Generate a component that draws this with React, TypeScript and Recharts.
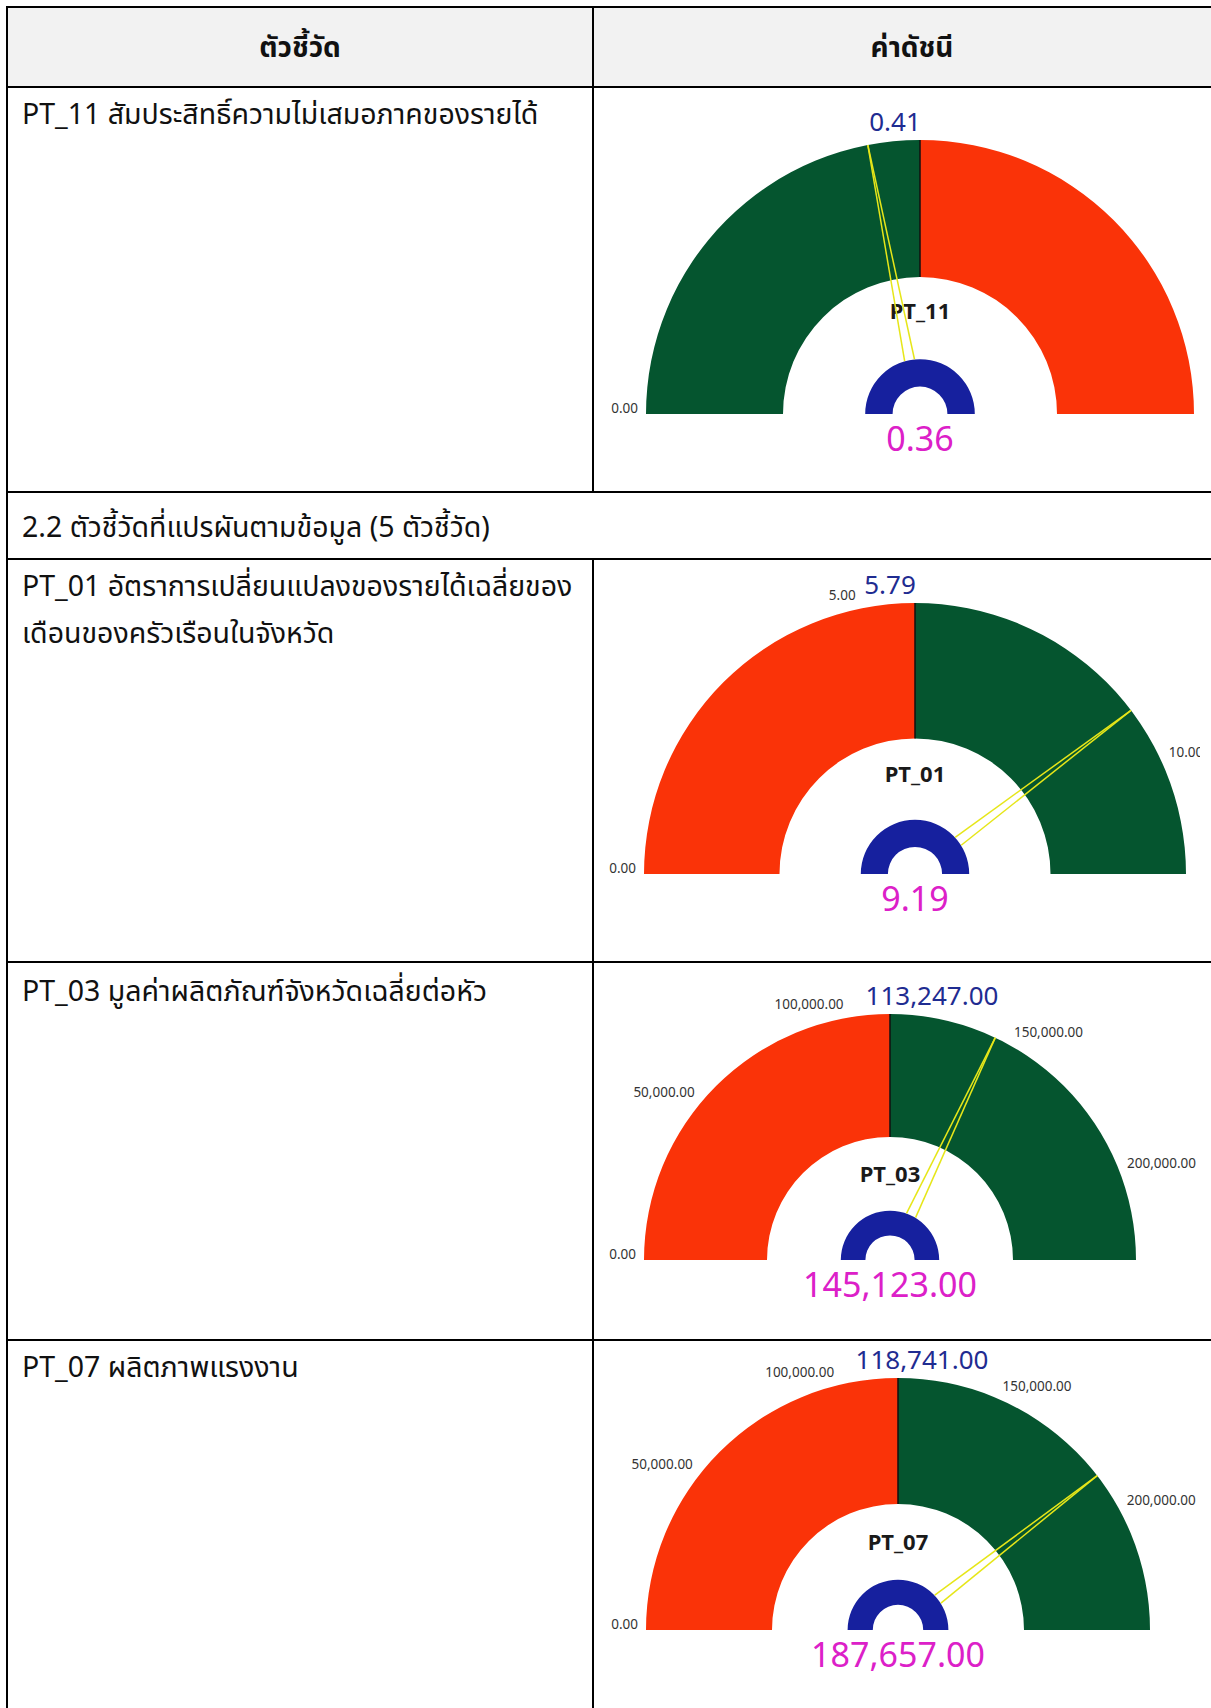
import React from 'react';
import { PieChart, Pie, Cell } from 'recharts';

// ---------- data ----------
const headerLabels = ['ตัวชี้วัด', 'ค่าดัชนี'];
const sectionTitle = '2.2 ตัวชี้วัดที่แปรผันตามข้อมูล (5 ตัวชี้วัด)';
const indicatorCodes = ['PT_11', 'PT_01', 'PT_03', 'PT_07'];
const indicatorLines = [
  ['PT_11 สัมประสิทธิ์ความไม่เสมอภาคของรายได้'],
  ['PT_01 อัตราการเปลี่ยนแปลงของรายได้เฉลี่ยของ', 'เดือนของครัวเรือนในจังหวัด'],
  ['PT_03 มูลค่าผลิตภัณฑ์จังหวัดเฉลี่ยต่อหัว'],
  ['PT_07 ผลิตภาพแรงงาน'],
];
const targetValues = [0.41, 5.79, 113247, 118741];
const actualValues = [0.36, 9.19, 145123, 187657];
const lowerIsBetter = [true, false, false, false];
const tickValues = [
  [0],
  [0, 5, 10],
  [0, 50000, 100000, 150000, 200000],
  [0, 50000, 100000, 150000, 200000],
];

// ---------- layout / style ----------
const GREEN = '#05552F';
const RED = '#FA3308';
const BLUE = '#16209E';
const BLUE_TEXT = '#1F2C91';
const PINK = '#DC20C8';
const NEEDLE = '#E6E619';
const NUM_FONT = '"Noto Sans", "Open Sans", sans-serif';
const THAI_FONT = '"Noto Sans Thai", "Leelawadee UI", Tahoma, "Noto Sans", sans-serif';

const CHART_LEFT = 594;
const CHART_W = 606;
const gaugeLayout = [
  { top: 88, height: 403, cx: 326, cy: 326, r: 274, labelDx: -25, nameDy: -104 },
  { top: 560, height: 401, cx: 321, cy: 314, r: 271, labelDx: -25, nameDy: -101 },
  { top: 963, height: 376, cx: 296, cy: 297, r: 246, labelDx: 42, nameDy: -87 },
  { top: 1341, height: 367, cx: 304, cy: 289, r: 252, labelDx: 24, nameDy: -89 },
];
const textRowsY = [[116], [588, 635], [993], [1369]];

const RAD = Math.PI / 180;
const polar = (cx: number, cy: number, r: number, a: number) => ({
  x: cx + r * Math.cos(-a * RAD),
  y: cy + r * Math.sin(-a * RAD),
});
const fmt = (v: number) =>
  v.toLocaleString('en-US', { minimumFractionDigits: 2, maximumFractionDigits: 2 });

function Gauge({ i }: { i: number }) {
  const L = gaugeLayout[i];
  const target = targetValues[i];
  const actual = actualValues[i];
  const max = target * 2;
  const bands = [
    { name: 'low', value: target },
    { name: 'high', value: target },
  ];
  const bandColors = lowerIsBetter[i] ? [GREEN, RED] : [RED, GREEN];
  const ticks = tickValues[i];
  const tickData = ticks.map((t, k) => ({
    tick: t,
    value: (k + 1 < ticks.length ? ticks[k + 1] : max) - t,
  }));
  const needleData = [
    { name: 'actual', value: actual },
    { name: 'rest', value: Math.max(max - actual, 0) },
  ];
  const R = L.r;

  const boundaryLabel = (p: any) => {
    if (p.index !== 0) return null;
    const a = polar(p.cx, p.cy, p.innerRadius, p.endAngle);
    const b = polar(p.cx, p.cy, p.outerRadius, p.endAngle);
    return <line key="bd" x1={a.x} y1={a.y} x2={b.x} y2={b.y} stroke="#111" strokeWidth={1.5} />;
  };

  const tickLabel = (p: any) => {
    const pt = polar(p.cx, p.cy, p.outerRadius + 8, p.startAngle);
    const c = Math.cos(p.startAngle * RAD);
    const anchor = c < -0.02 ? 'end' : c > 0.02 ? 'start' : 'middle';
    return (
      <text
        key={'t' + p.index}
        x={pt.x}
        y={pt.y - 6}
        textAnchor={anchor}
        dominantBaseline="central"
        fontSize={13.5}
        fontFamily={NUM_FONT}
        fill="#333"
      >
        {fmt(p.payload.tick)}
      </text>
    );
  };

  const needleLabel = (p: any) => {
    if (p.index !== 0) return null;
    const ang = p.endAngle;
    const tip = polar(p.cx, p.cy, p.outerRadius, ang);
    const base = polar(p.cx, p.cy, p.innerRadius, ang);
    const nx = Math.cos((-ang + 90) * RAD) * 5;
    const ny = Math.sin((-ang + 90) * RAD) * 5;
    return (
      <g key="needle">
        <line x1={base.x + nx} y1={base.y + ny} x2={tip.x} y2={tip.y} stroke={NEEDLE} strokeWidth={1.5} />
        <line x1={base.x - nx} y1={base.y - ny} x2={tip.x} y2={tip.y} stroke={NEEDLE} strokeWidth={1.5} />
      </g>
    );
  };

  const centerLabel = (p: any) => {
    if (p.index !== 0) return null;
    return (
      <g key="center">
        <text
          x={p.cx + L.labelDx}
          y={p.cy - R - 19}
          textAnchor="middle"
          dominantBaseline="central"
          fontSize={26}
          fontFamily={NUM_FONT}
          fill={BLUE_TEXT}
        >
          {fmt(target)}
        </text>
        <text
          x={p.cx}
          y={p.cy + L.nameDy}
          textAnchor="middle"
          dominantBaseline="central"
          fontSize={22}
          fontWeight="bold"
          fontFamily={NUM_FONT}
          fill="#1a1a1a"
        >
          {indicatorCodes[i]}
        </text>
        <text
          x={p.cx}
          y={p.cy + 24}
          textAnchor="middle"
          dominantBaseline="central"
          fontSize={34}
          fontFamily={NUM_FONT}
          fill={PINK}
        >
          {fmt(actual)}
        </text>
      </g>
    );
  };

  return (
    <div style={{ position: 'absolute', left: CHART_LEFT, top: L.top, width: CHART_W, height: L.height, overflow: 'hidden' }}>
      <PieChart width={CHART_W} height={L.height} margin={{ top: 0, right: 0, bottom: 0, left: 0 }}>
        <Pie
          data={bands}
          dataKey="value"
          cx={L.cx}
          cy={L.cy}
          startAngle={180}
          endAngle={0}
          innerRadius={R * 0.5}
          outerRadius={R}
          stroke="none"
          isAnimationActive={false}
          label={boundaryLabel}
          labelLine={false}
        >
          {bands.map((b, k) => (
            <Cell key={b.name} fill={bandColors[k]} />
          ))}
        </Pie>
        <Pie
          data={tickData}
          dataKey="value"
          cx={L.cx}
          cy={L.cy}
          startAngle={180}
          endAngle={0}
          innerRadius={R}
          outerRadius={R}
          fill="none"
          stroke="none"
          isAnimationActive={false}
          label={tickLabel}
          labelLine={false}
        />
        <Pie
          data={[{ name: 'hub', value: 1 }]}
          dataKey="value"
          cx={L.cx}
          cy={L.cy}
          startAngle={180}
          endAngle={0}
          innerRadius={R * 0.1}
          outerRadius={R * 0.2}
          fill={BLUE}
          stroke="none"
          isAnimationActive={false}
          label={centerLabel}
          labelLine={false}
        />
        <Pie
          data={needleData}
          dataKey="value"
          cx={L.cx}
          cy={L.cy}
          startAngle={180}
          endAngle={0}
          innerRadius={R * 0.2}
          outerRadius={R}
          fill="none"
          stroke="none"
          isAnimationActive={false}
          label={needleLabel}
          labelLine={false}
        />
      </PieChart>
    </div>
  );
}

const hLine = (y: number, x1: number, x2: number, key: string) => (
  <div key={key} style={{ position: 'absolute', left: x1, top: y - 1, width: x2 - x1, height: 2, background: '#000' }} />
);
const vLine = (x: number, y1: number, y2: number, key: string) => (
  <div key={key} style={{ position: 'absolute', left: x - 1, top: y1, width: 2, height: y2 - y1, background: '#000' }} />
);

const textStyle = (y: number, size: number, extra: any = {}) => ({
  position: 'absolute' as const,
  top: y - 25,
  height: 50,
  lineHeight: '50px',
  fontSize: size,
  fontFamily: THAI_FONT,
  color: '#111',
  whiteSpace: 'nowrap' as const,
  ...extra,
});

export default function App() {
  return (
    <div style={{ position: 'absolute', left: 0, top: 0, width: 1211, height: 1708, overflow: 'hidden', background: '#fff' }}>
      {/* header background */}
      <div style={{ position: 'absolute', left: 7, top: 8, width: 1230, height: 79, background: '#F2F2F2' }} />
      <div style={textStyle(49, 28, { left: 7, width: 586, textAlign: 'center', fontWeight: 'bold' })}>{headerLabels[0]}</div>
      <div style={textStyle(49, 28, { left: 593, width: 638, textAlign: 'center', fontWeight: 'bold' })}>{headerLabels[1]}</div>

      {indicatorLines.map((lines, i) =>
        lines.map((ln, k) => (
          <div key={'tx' + i + '_' + k} style={textStyle(textRowsY[i][k], 28.5, { left: 22 })}>
            {ln}
          </div>
        ))
      )}
      <div style={textStyle(529, 28.5, { left: 22 })}>{sectionTitle}</div>

      {indicatorCodes.map((_, i) => (
        <Gauge key={i} i={i} />
      ))}

      {hLine(7, 6, 1211, 'h0')}
      {hLine(87, 6, 1211, 'h1')}
      {hLine(492, 6, 1211, 'h2')}
      {hLine(559, 6, 1211, 'h3')}
      {hLine(962, 6, 1211, 'h4')}
      {hLine(1340, 6, 1211, 'h5')}
      {vLine(7, 6, 1708, 'v0')}
      {vLine(593, 6, 492, 'v1')}
      {vLine(593, 559, 1708, 'v2')}
    </div>
  );
}
